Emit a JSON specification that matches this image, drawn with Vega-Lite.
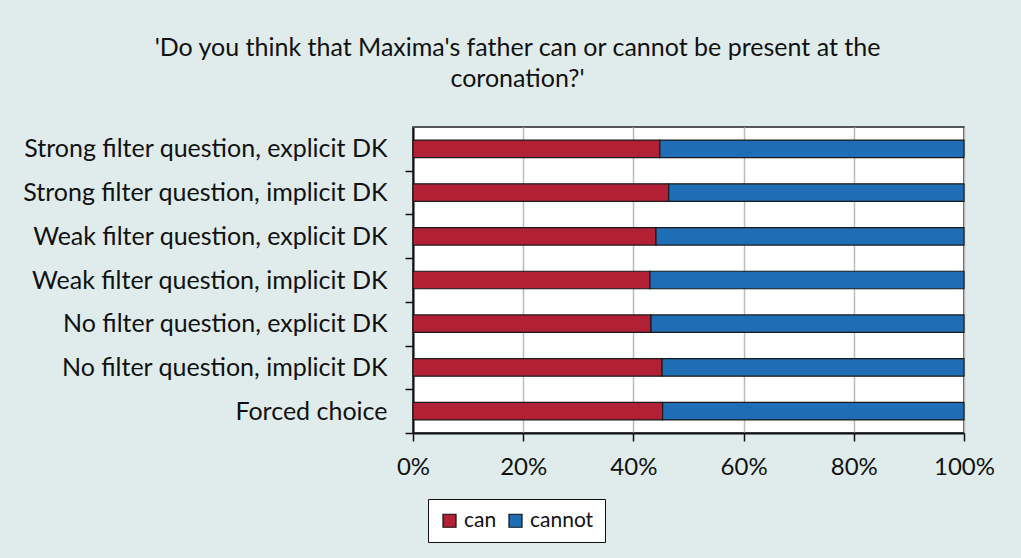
{
  "$schema": "https://vega.github.io/schema/vega-lite/v6.json",
  "width": 551,
  "height": 306,
  "autosize": {"type": "none"},
  "padding": {"left": 413, "top": 127, "right": 57, "bottom": 125},
  "background": "#dfeceb",
  "title": {
    "text": ["'Do you think that Maxima's father can or cannot be present at the", "coronation?'"],
    "anchor": "middle",
    "dx": -171,
    "offset": 35,
    "font": "Lato",
    "fontSize": 25,
    "fontWeight": "normal",
    "color": "#111",
    "lineHeight": 31
  },
  "config": {
    "view": {"fill": "white", "stroke": "#222", "strokeWidth": 1.5},
    "font": "Lato"
  },
  "data": {
    "values": [
      {"q": "Strong filter question, explicit DK", "answer": "can", "pct": 44.8},
      {"q": "Strong filter question, explicit DK", "answer": "cannot", "pct": 55.2},
      {"q": "Strong filter question, implicit DK", "answer": "can", "pct": 46.4},
      {"q": "Strong filter question, implicit DK", "answer": "cannot", "pct": 53.6},
      {"q": "Weak filter question, explicit DK", "answer": "can", "pct": 44.1},
      {"q": "Weak filter question, explicit DK", "answer": "cannot", "pct": 55.9},
      {"q": "Weak filter question, implicit DK", "answer": "can", "pct": 43.0},
      {"q": "Weak filter question, implicit DK", "answer": "cannot", "pct": 57.0},
      {"q": "No filter question, explicit DK", "answer": "can", "pct": 43.2},
      {"q": "No filter question, explicit DK", "answer": "cannot", "pct": 56.8},
      {"q": "No filter question, implicit DK", "answer": "can", "pct": 45.2},
      {"q": "No filter question, implicit DK", "answer": "cannot", "pct": 54.8},
      {"q": "Forced choice", "answer": "can", "pct": 45.3},
      {"q": "Forced choice", "answer": "cannot", "pct": 54.7}
    ]
  },
  "mark": {"type": "bar", "stroke": "#1a1a1a", "strokeWidth": 1.2},
  "encoding": {
    "y": {
      "field": "q",
      "type": "nominal",
      "sort": null,
      "title": null,
      "scale": {"paddingInner": 0.6, "paddingOuter": 0.3},
      "axis": {
        "tickOffset": 21.86,
        "labelOffset": -21.86,
        "domainColor": "#111",
        "domainWidth": 2,
        "tickColor": "#111",
        "tickWidth": 1.5,
        "tickSize": 8,
        "labelFontSize": 25,
        "labelLimit": 420,
        "labelColor": "#111",
        "labelPadding": 18,
        "grid": false
      }
    },
    "x": {
      "field": "pct",
      "type": "quantitative",
      "stack": "normalize",
      "title": null,
      "scale": {"domain": [0, 1]},
      "axis": {
        "format": ".0%",
        "values": [0, 0.2, 0.4, 0.6, 0.8, 1],
        "grid": true,
        "gridColor": "#bbbbbb",
        "gridWidth": 1.5,
        "domainColor": "#111",
        "domainWidth": 2,
        "tickColor": "#111",
        "tickWidth": 1.5,
        "tickSize": 8,
        "labelFlush": false,
        "labelFontSize": 24,
        "labelColor": "#111",
        "labelPadding": 14
      }
    },
    "color": {
      "field": "answer",
      "type": "nominal",
      "scale": {"domain": ["can", "cannot"], "range": ["#b22035", "#1f6eb5"]},
      "legend": {
        "title": null,
        "orient": "none",
        "legendX": 15,
        "legendY": 372,
        "direction": "horizontal",
        "symbolType": "square",
        "symbolSize": 170,
        "symbolStrokeColor": "#111",
        "symbolStrokeWidth": 1.2,
        "labelFontSize": 21,
        "labelColor": "#111",
        "fillColor": "white",
        "strokeColor": "#111",
        "padding": 11,
        "columnPadding": 8,
        "labelOffset": 4
      }
    }
  }
}
